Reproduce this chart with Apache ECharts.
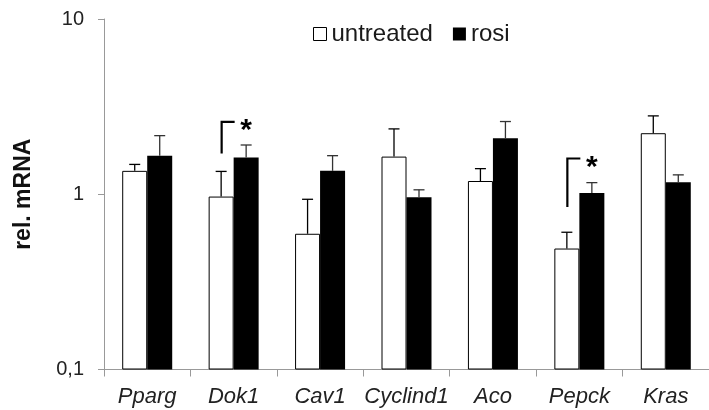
<!DOCTYPE html>
<html>
<head>
<meta charset="utf-8">
<script src="https://cdn.jsdelivr.net/npm/echarts@6/dist/echarts.min.js"></script>
<style>html,body{margin:0;padding:0;background:#fff}#c{width:709px;height:410px}</style>
</head>
<body>
<div id="c"></div>
<script>
const categories = ['Pparg', 'Dok1', 'Cav1', 'Cyclind1', 'Aco', 'Pepck', 'Kras'];
const untreated = [1.36, 0.97, 0.595, 1.64, 1.19, 0.49, 2.23];
const untreatedErrTop = [1.48, 1.35, 0.936, 2.36, 1.40, 0.607, 2.80];
const rosi = [1.66, 1.62, 1.36, 0.96, 2.09, 1.017, 1.17];
const rosiErrTop = [2.16, 1.91, 1.66, 1.06, 2.60, 1.165, 1.29];
// significance brackets: [category index, bottom value, top value]
const brackets = [[1, 1.71, 2.59], [5, 0.846, 1.60]];
const yTickLabels = {0.1: '0,1', 1: '1', 10: '10'};

const BAR_W = 25;
const FONT = '"Liberation Sans", Arial, sans-serif';

function errSeries(vals, tops, offset, color) {
  return {
    type: 'custom',
    silent: true,
    data: vals.map((v, i) => [i, v, tops[i]]),
    renderItem: function (params, api) {
      const i = api.value(0);
      const b = api.coord([i, api.value(1)]);
      const t = api.coord([i, api.value(2)]);
      const x = b[0] + offset;
      return {
        type: 'group',
        children: [
          {type: 'line', shape: {x1: x, y1: b[1], x2: x, y2: t[1]}, style: {stroke: color, lineWidth: 1.3}},
          {type: 'line', shape: {x1: x - 5.5, y1: t[1], x2: x + 5.5, y2: t[1]}, style: {stroke: color, lineWidth: 1.3}}
        ]
      };
    },
    z: 3
  };
}

const chart = echarts.init(document.getElementById('c'));
chart.setOption({
  animation: false,
  backgroundColor: '#fff',
  grid: {left: 104, right: -3, top: 19, bottom: 40.5, containLabel: false},
  legend: {
    left: 313, top: 22, padding: 0,
    itemWidth: 13, itemHeight: 13, itemGap: 20,
    textStyle: {fontFamily: FONT, fontSize: 24, color: '#1a1a1a'},
    data: [
      {name: 'untreated', icon: 'rect', itemStyle: {color: '#fff', borderColor: '#000', borderWidth: 1}},
      {name: 'rosi', icon: 'rect', itemStyle: {color: '#000', borderWidth: 0}}
    ]
  },
  xAxis: {
    type: 'category',
    data: categories,
    axisLine: {lineStyle: {color: '#999', width: 1}},
    axisTick: {show: true, length: 7, lineStyle: {color: '#999'}},
    axisLabel: {interval: 0, fontFamily: FONT, fontSize: 22, fontStyle: 'italic', color: '#222', margin: 16}
  },
  yAxis: {
    type: 'log',
    logBase: 10,
    min: 0.1, max: 10,
    startValue: 0.1,
    name: 'rel. mRNA',
    nameLocation: 'middle',
    nameGap: 69,
    nameTextStyle: {fontFamily: FONT, fontSize: 23, fontWeight: 'bold', color: '#111'},
    axisLine: {show: true, lineStyle: {color: '#999', width: 1}},
    axisTick: {show: true, length: 6, lineStyle: {color: '#999'}},
    minorTick: {show: false},
    splitLine: {show: false},
    axisLabel: {
      fontFamily: FONT, fontSize: 20, color: '#222', margin: 20,
      formatter: v => yTickLabels[v] !== undefined ? yTickLabels[v] : ''
    }
  },
  series: [
    {
      name: 'untreated', type: 'bar', data: untreated, barWidth: BAR_W, barGap: '0%',
      itemStyle: {color: '#fff', borderColor: '#000', borderWidth: 1}, z: 2
    },
    {
      name: 'rosi', type: 'bar', data: rosi, barWidth: BAR_W, barGap: '0%',
      itemStyle: {color: '#000'}, z: 2
    },
    errSeries(untreated, untreatedErrTop, -BAR_W / 2, '#000'),
    errSeries(rosi, rosiErrTop, BAR_W / 2, '#333'),
    {
      type: 'custom',
      silent: true,
      data: brackets,
      renderItem: function (params, api) {
        const i = api.value(0);
        const b = api.coord([i, api.value(1)]);
        const t = api.coord([i, api.value(2)]);
        const x = b[0] - BAR_W / 2 + 0.5;
        return {
          type: 'group',
          children: [
            {type: 'polyline', shape: {points: [[x, b[1]], [x, t[1]], [x + 13, t[1]]]}, style: {stroke: '#000', lineWidth: 2.2, fill: null}},
            {type: 'text', style: {x: b[0] + BAR_W / 2, y: t[1] + 9, text: '*', fontFamily: FONT, fontSize: 30, fontWeight: 'bold', fill: '#000', align: 'center', verticalAlign: 'middle'}}
          ]
        };
      },
      z: 4
    }
  ]
});
</script>
</body>
</html>
